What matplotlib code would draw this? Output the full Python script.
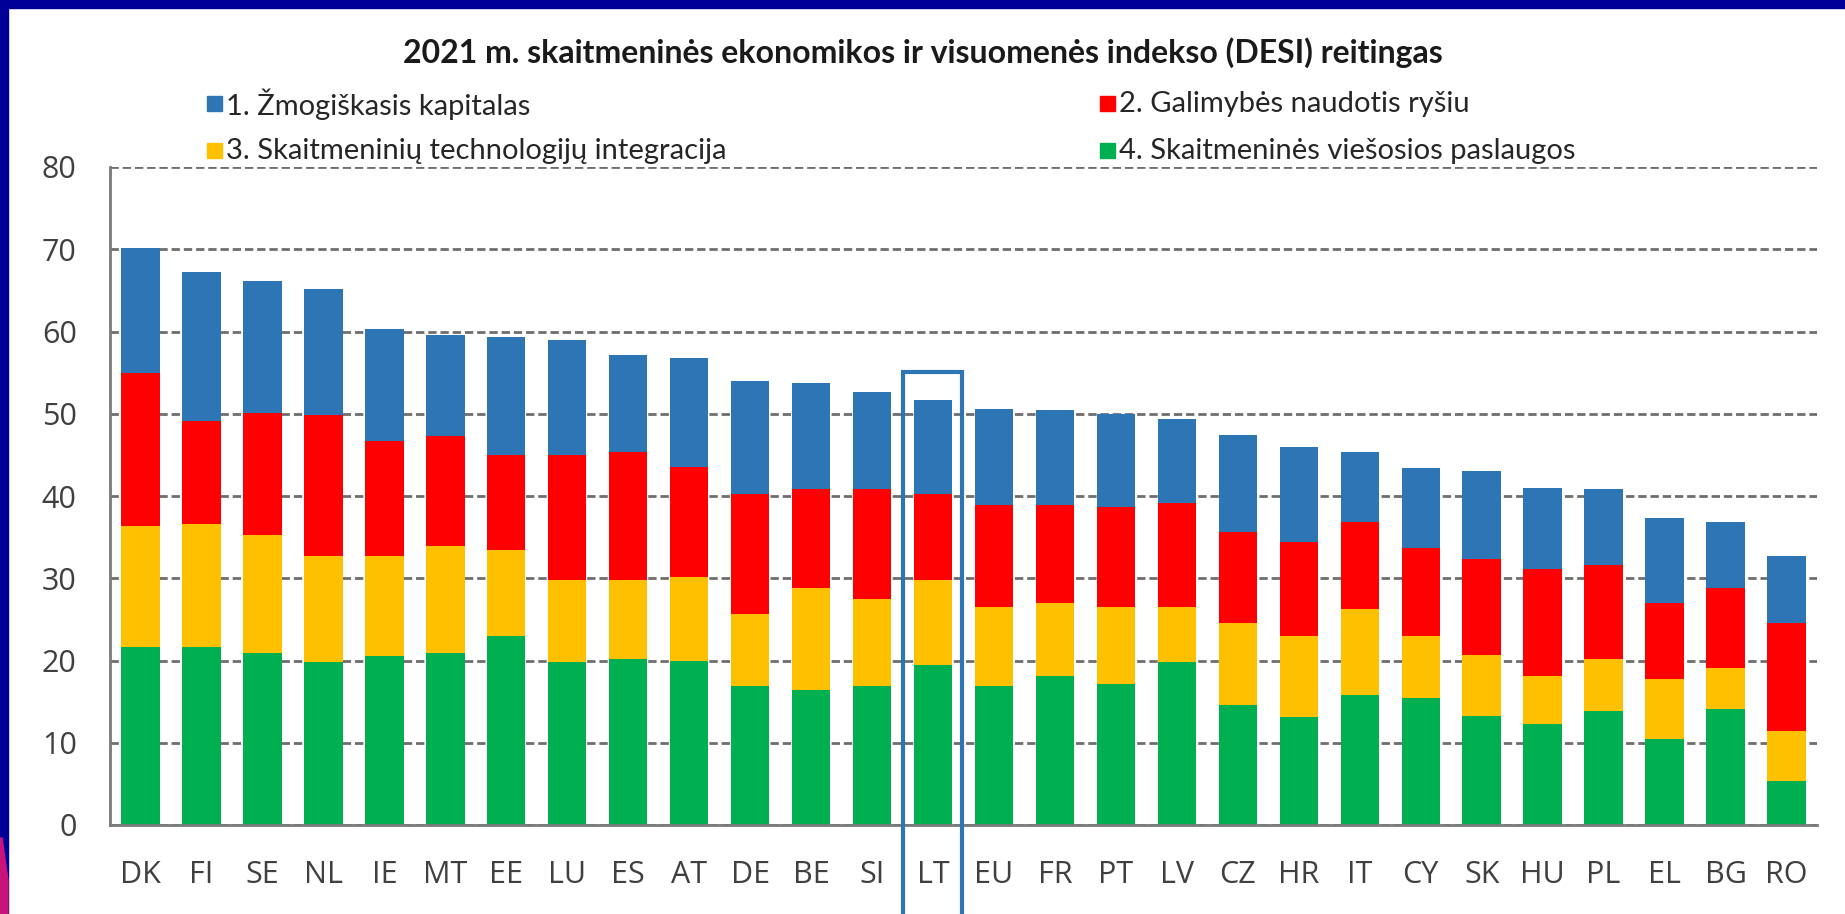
import numpy as np
import matplotlib
matplotlib.use("Agg")
from matplotlib import pyplot as plt
from matplotlib.patches import Rectangle, Polygon

countries = ["DK", "FI", "SE", "NL", "IE", "MT", "EE", "LU", "ES", "AT", "DE", "BE", "SI", "LT",
             "EU", "FR", "PT", "LV", "CZ", "HR", "IT", "CY", "SK", "HU", "PL", "EL", "BG", "RO"]

# 4. Skaitmeninės viešosios paslaugos (bottom)
viesosios = [21.7, 21.7, 20.9, 19.8, 20.6, 20.9, 23.0, 19.8, 20.2, 20.0, 16.9, 16.4, 16.9, 19.4,
             16.9, 18.1, 17.1, 19.8, 14.6, 13.1, 15.8, 15.4, 13.3, 12.3, 13.9, 10.5, 14.1, 5.3]
# 3. Skaitmeninių technologijų integracija
integracija = [14.7, 14.9, 14.3, 12.9, 12.1, 13.0, 10.4, 10.0, 9.6, 10.2, 8.8, 12.4, 10.6, 10.4,
               9.6, 8.9, 9.4, 6.7, 9.9, 9.9, 10.5, 7.6, 7.4, 5.8, 6.3, 7.2, 5.0, 6.1]
# 2. Galimybės naudotis ryšiu
rysys = [18.5, 12.5, 14.9, 17.1, 14.0, 13.4, 11.6, 15.2, 15.6, 13.3, 14.5, 12.0, 13.3, 10.4,
         12.4, 11.9, 12.2, 12.6, 11.1, 11.4, 10.5, 10.7, 11.6, 13.0, 11.4, 9.3, 9.7, 13.1]
# 1. Žmogiškasis kapitalas (top)
kapitalas = [15.2, 18.1, 16.1, 15.4, 13.6, 12.3, 14.3, 14.0, 11.8, 13.3, 13.8, 12.9, 11.9, 11.5,
             11.7, 11.5, 11.3, 10.3, 11.8, 11.5, 8.6, 9.7, 10.8, 9.9, 9.2, 10.3, 8.0, 8.2]

labels = ["1. Žmogiškasis kapitalas", "2. Galimybės naudotis ryšiu",
          "3. Skaitmeninių technologijų integracija", "4. Skaitmeninės viešosios paslaugos"]
colors = ["#2E75B6", "#FF0000", "#FFC000", "#00B050"]
highlight = "LT"

W, H = 1845, 914
fig = plt.figure(figsize=(W / 100, H / 100), dpi=100)
fig.patch.set_facecolor("white")

ax = fig.add_axes([110 / W, (H - 825) / H, (1817 - 110) / W, (825 - 167) / H])

x = np.arange(len(countries))
stack = [viesosios, integracija, rysys, kapitalas]
stack_colors = [colors[3], colors[2], colors[1], colors[0]]
bottom = np.zeros(len(countries))
for vals, c in zip(stack, stack_colors):
    ax.bar(x, vals, bottom=bottom, width=0.63, color=c, zorder=2)
    bottom += np.array(vals)

ax.set_xlim(-0.5, len(countries) - 0.5)
ax.set_ylim(0, 80)
ax.set_yticks(range(0, 81, 10))
ax.set_xticks(x)
ax.set_xticklabels(countries)
ax.yaxis.grid(True, color="#6e6e6e", linewidth=2.0, linestyle=(0, (3, 1.4)))
ax.set_axisbelow(True)
for s in ["top", "right"]:
    ax.spines[s].set_visible(False)
for s in ["left", "bottom"]:
    ax.spines[s].set_color("#7a7a7a")
    ax.spines[s].set_linewidth(2.0)
ax.tick_params(axis="both", length=0, labelsize=22, labelcolor="#404040")
ax.tick_params(axis="y", pad=24)
ax.tick_params(axis="x", pad=25)
for t in ax.get_xticklabels() + ax.get_yticklabels():
    t.set_fontfamily("Open Sans")

# LT highlight box
i = countries.index(highlight)
ax.add_patch(Rectangle((i - 0.49, -20), 0.97, 75.1, fill=False, edgecolor="#2E75B6",
                       linewidth=3, clip_on=False, zorder=3))

fig.text(923 / W, 1 - 53 / H, "2021 m. skaitmeninės ekonomikos ir visuomenės indekso (DESI) reitingas",
         ha="center", va="center", fontsize=23, fontweight="bold", family="Lato", color="#1a1a1a")

# legend, two rows by two columns
pos = [(207, 104), (1100, 104), (207, 151), (1100, 151)]
for (px, py), lab, c in zip(pos, labels, colors):
    fig.patches.append(Rectangle((px / W, 1 - (py + 7) / H), 15 / W, 15 / H, color=c,
                                 transform=fig.transFigure))
    fig.text((px + 19) / W, 1 - py / H, lab, ha="left", va="center", fontsize=21,
             family="Lato", color="#262626")

# slide frame
fig.patches.append(Rectangle((0, 1 - 8 / H), 1, 8 / H, color="#000099", transform=fig.transFigure))
fig.patches.append(Rectangle((0, 0), 8 / W, 1, color="#000099", transform=fig.transFigure))
fig.patches.append(Polygon([(0, 1 - 838 / H), (2 / W, 1 - 838 / H), (8 / W, 1 - 880 / H),
                            (8 / W, 0), (0, 0)], closed=True, color="#C8147A",
                           transform=fig.transFigure))

fig.savefig("out.png", dpi=100)
